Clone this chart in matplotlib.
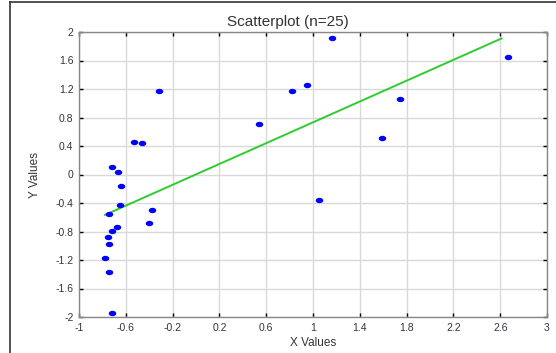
import numpy as np
import matplotlib
matplotlib.use("Agg")
import matplotlib.pyplot as plt
from matplotlib.lines import Line2D
from matplotlib.path import Path

x_vals = [-0.314, 0.818, 0.949, 1.16, 2.67, 1.744, 0.541, -0.527, -0.464, -0.72,
          -0.669, -0.644, -0.65, -0.744, -0.376, -0.399, -0.675, -0.72, -0.749, -0.744,
          -0.775, -0.741, -0.718, 1.59, 1.054]
y_vals = [1.168, 1.168, 1.257, 1.91, 1.65, 1.06, 0.705, 0.461, 0.443, 0.111,
          0.032, -0.164, -0.422, -0.557, -0.492, -0.674, -0.735, -0.79, -0.879, -0.978,
          -1.174, -1.37, -1.95, 0.509, -0.36]
fit_x = [-0.778, 2.612]
fit_y = [-0.567, 1.91]
x_ticks = [-1, -0.6, -0.2, 0.2, 0.6, 1, 1.4, 1.8, 2.2, 2.6, 3]
y_ticks = [-2, -1.6, -1.2, -0.8, -0.4, 0, 0.4, 0.8, 1.2, 1.6, 2]

plt.rcParams['font.family'] = ['Liberation Sans', 'DejaVu Sans']

# slightly wide elliptical marker, as in the reference
circ = Path.unit_circle()
ellipse = Path(circ.vertices * np.array([1.0, 0.72]), circ.codes)

fig = plt.figure(figsize=(5.56, 3.53), dpi=100)
W, H = 556, 353
ax = fig.add_axes([79 / W, 1 - 317 / H, (547 - 79) / W, (317 - 32) / H])

ax.grid(True, color='#d9d9d9', linewidth=1.0, zorder=0)
ax.set_axisbelow(True)
ax.plot(x_vals, y_vals, linestyle='none', marker=ellipse, color='#0000ff',
        markersize=5.4, markeredgewidth=0, zorder=3)
ax.plot(fit_x, fit_y, '-', color='#2ecc2e', linewidth=1.4, zorder=2)

ax.set_xlim(-1, 3)
ax.set_ylim(-2, 2)
ax.set_xticks(x_ticks)
ax.set_yticks(y_ticks)
ax.set_xticklabels(['%g' % v for v in x_ticks])
ax.set_yticklabels(['%g' % v for v in y_ticks])
ax.tick_params(direction='in', length=3, width=1, colors='#000000', labelcolor='#333344',
               labelsize=7.5, top=True, right=True, pad=4)
for s in ax.spines.values():
    s.set_color('#888888')
    s.set_linewidth(1.0)

ax.set_xlabel('X Values', fontsize=8.5, color='#333333', labelpad=3)
ax.set_ylabel('Y Values', fontsize=8.5, color='#333333', labelpad=10)
fig.text(288 / W, 1 - 22 / H, 'Scatterplot (n=25)', ha='center', va='center',
         fontsize=11, color='#333333')

fig.add_artist(Line2D([10 / W, 1], [1 - 2 / H, 1 - 2 / H], color='#333333', linewidth=1.2,
                      transform=fig.transFigure))
fig.add_artist(Line2D([10 / W, 10 / W], [0, 1 - 2 / H], color='#333333', linewidth=1.2,
                      transform=fig.transFigure))

fig.savefig('out.png', dpi=100)
